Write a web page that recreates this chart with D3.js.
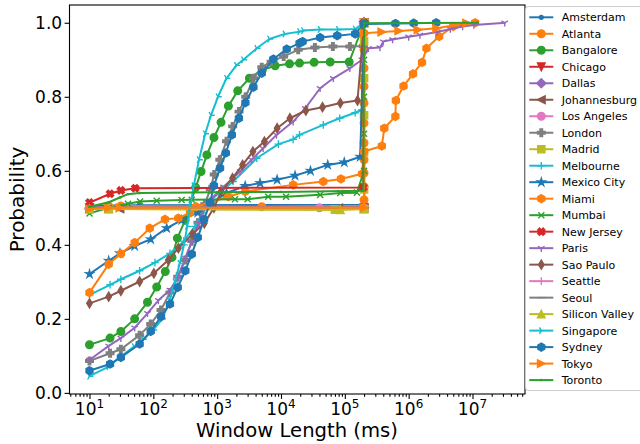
<!DOCTYPE html>
<html><head><meta charset="utf-8">
<script src="https://cdn.jsdelivr.net/npm/d3@7"></script>
<style>body{margin:0;background:#fff} svg{display:block;font-family:"DejaVu Sans",sans-serif}</style>
</head><body><svg id="c" width="640" height="444"></svg>
<script>
// ---------------- data ----------------
const cities = ["Amsterdam","Atlanta","Bangalore","Chicago","Dallas","Johannesburg","Los Angeles","London","Madrid","Melbourne","Mexico City","Miami","Mumbai","New Jersey","Paris","Sao Paulo","Seattle","Seoul","Silicon Valley","Singapore","Sydney","Tokyo","Toronto"];
const palette = ["#1f77b4","#ff7f0e","#2ca02c","#d62728","#9467bd","#8c564b","#e377c2","#7f7f7f","#bcbd22","#17becf"];
const markerKinds = [".","o","o","v","D","<","o","P","s","+","*","h","x","X","1","d","|","_","^","4","h",">",","];

const amsterdam = [[10,0.505],[20,0.506],[60,0.507],[200000,0.508],[200000,1.0]];
const atlanta = [[10,0.495],[20,0.505],[31,0.505],[5000,0.503],[200000,0.505],[200000,0.521],[200000,0.557],[200000,0.594],[200000,0.630],[200000,0.675],[200000,0.729],[200000,0.783],[200000,0.828],[200000,0.877],[200000,0.927],[200000,0.972],[200000,1.0]];
const bangalore = [[10,0.130],[21,0.148],[31,0.166],[51,0.200],[81,0.245],[113,0.286],[154,0.328],[196,0.366],[238,0.418],[315,0.467],[460,0.555],[560,0.598],[690,0.643],[890,0.690],[1150,0.731],[1500,0.775],[2100,0.816],[3200,0.850],[5100,0.873],[8100,0.884],[13600,0.889],[19500,0.891],[33000,0.893],[59000,0.894],[117000,0.894],[200000,1.0]];
const chicago = [[10,0.5],[200000,0.5],[200000,1.0]];
const dallas = [[10,0.497],[20,0.5],[200000,0.5],[200000,1.0]];
const johannesburg = [[10,0.5],[30,0.497],[80000,0.5],[200000,0.5],[200000,1.0]];
const losAngeles = [[10,0.5],[20,0.5],[40000,0.5],[200000,0.5],[200000,1.0]];
const london = [[10,0.086],[21,0.107],[31,0.118],[61,0.156],[91,0.186],[132,0.224],[182,0.271],[241,0.314],[317,0.359],[400,0.41],[500,0.46],[640,0.51],[780,0.55],[900,0.59],[1100,0.63],[1400,0.68],[1750,0.72],[2200,0.76],[2800,0.80],[3700,0.85],[5000,0.88],[7000,0.895],[11000,0.909],[18600,0.927],[34000,0.933],[65000,0.936],[120000,0.936],[195000,0.937],[200000,1.0]];
const madrid = [[10,0.497],[20,0.497],[70000,0.495],[200000,0.497],[200000,0.55],[200000,0.65],[200000,0.75],[200000,0.85],[200000,0.95],[200000,1.0]];
const melbourne = [[10,0.265],[21,0.292],[31,0.307],[61,0.330],[106,0.352],[182,0.377],[300,0.41],[450,0.45],[600,0.486],[780,0.52],[1780,0.571],[4170,0.634],[9100,0.672],[15500,0.685],[19500,0.697],[46000,0.724],[83000,0.742],[145000,0.757],[186000,0.765],[200000,1.0]];
const mexicoCity = [[10,0.321],[20,0.357],[30,0.377],[51,0.397],[91,0.415],[162,0.445],[278,0.467],[497,0.487],[1400,0.540],[2750,0.559],[4700,0.567],[8700,0.576],[16600,0.587],[29000,0.600],[54000,0.616],[98000,0.623],[174000,0.638],[200000,1.0]];
const miami = [[10,0.271],[20,0.348],[31,0.376],[51,0.406],[88,0.445],[152,0.469],[247,0.472],[375,0.487],[470,0.503],[1500,0.530],[2750,0.544],[15500,0.562],[46000,0.571],[87000,0.578],[186000,0.592],[200000,0.652],[380000,0.667],[415000,0.715],[620000,0.747],[630000,0.79],[830000,0.829],[1170000,0.862],[1620000,0.893],[1900000,0.931],[3000000,0.963],[5000000,0.99],[11000000,1.0]];
const mumbai = [[10,0.485],[20,0.50],[40,0.511],[62,0.517],[113,0.519],[278,0.521],[400,0.522],[1900,0.523],[3000,0.523],[6300,0.530],[12000,0.530],[41000,0.535],[85000,0.54],[155000,0.541],[200000,0.6],[200000,0.7],[200000,0.8],[200000,0.9],[200000,1.0]];
const newJersey = [[10,0.514],[21,0.538],[31,0.547],[52,0.553],[195000,0.555],[200000,1.0]];
const paris = [[10,0.089],[20,0.127],[31,0.148],[51,0.176],[81,0.215],[120,0.25],[182,0.278],[240,0.31],[315,0.364],[400,0.409],[510,0.458],[690,0.513],[1260,0.557],[2290,0.598],[3470,0.630],[5250,0.661],[8500,0.697],[15500,0.733],[24000,0.769],[41000,0.823],[66000,0.850],[120000,0.877],[186000,0.90],[234000,0.931],[355000,0.933],[400000,0.949],[560000,0.955],[1000000,0.962],[1500000,0.967],[2800000,0.975],[4500000,0.983],[7000000,0.99],[10500000,0.994],[32000000,1.0]];
const saoPaulo = [[10,0.242],[20,0.260],[31,0.276],[61,0.301],[102,0.323],[172,0.359],[247,0.391],[410,0.429],[630,0.458],[890,0.50],[1150,0.544],[1740,0.580],[2500,0.616],[3630,0.652],[5500,0.679],[8700,0.715],[13800,0.742],[24500,0.763],[44700,0.772],[85000,0.783],[158000,0.790],[200000,1.0]];
const seattle = [[10,0.5],[40000,0.5],[200000,0.5],[200000,1.0]];
const seoul = [[10,0.5],[200000,0.5],[200000,1.0]];
const siliconValley = [[10,0.497],[20,0.497],[85000,0.495],[200000,0.497],[200000,1.0]];
const singapore = [[10,0.045],[20,0.071],[30,0.097],[50,0.125],[69,0.145],[100,0.17],[138,0.20],[180,0.25],[218,0.30],[260,0.35],[302,0.40],[340,0.45],[376,0.50],[430,0.56],[520,0.63],[650,0.70],[800,0.75],[1030,0.80],[1400,0.85],[2000,0.885],[2570,0.90],[4170,0.931],[6600,0.956],[11500,0.970],[19500,0.976],[22400,0.979],[41000,0.982],[79000,0.982],[145000,0.983],[200000,1.0]];
const sydney = [[10,0.060],[21,0.078],[31,0.096],[61,0.132],[91,0.166],[132,0.206],[182,0.240],[241,0.285],[317,0.330],[400,0.375],[497,0.420],[624,0.469],[778,0.514],[890,0.560],[1110,0.607],[1365,0.648],[1700,0.697],[2190,0.742],[2770,0.784],[3700,0.826],[5000,0.864],[7600,0.902],[12300,0.929],[19500,0.945],[21800,0.949],[41000,0.960],[76000,0.965],[145000,0.970],[200000,0.997],[620000,0.998],[1200000,0.999],[2700000,1.0]];
const tokyo = [[10,0.497],[20,0.5],[30,0.5],[200000,0.5],[200000,0.972],[380000,0.975],[700000,0.978],[1400000,0.981],[2750000,0.985],[8100000,0.999]];
const toronto = [[10,0.503],[20,0.515],[30,0.528],[40,0.537],[60,0.540],[1000,0.542],[10000,0.543],[195000,0.546],[200000,0.999],[12000000,1.0]];

const seriesValues = [amsterdam,atlanta,bangalore,chicago,dallas,johannesburg,losAngeles,london,madrid,melbourne,mexicoCity,miami,mumbai,newJersey,paris,saoPaulo,seattle,seoul,siliconValley,singapore,sydney,tokyo,toronto];

const xMajorTicks = [1e1,1e2,1e3,1e4,1e5,1e6,1e7];
const xTickExponents = ["1","2","3","4","5","6","7"];
const yTickValues = [0,0.2,0.4,0.6,0.8,1.0];
const xTitle = "Window Length (ms)";
const yTitle = "Probability";

// ---------------- layout ----------------
const L = 69.5, R = 525, T = 5, B = 394;
const svg = d3.select("#c");
const x = d3.scaleLog().domain([4.861, 6.645e7]).range([L, R]);
const y = d3.scaleLinear().domain([-0.003, 1.048]).range([B, T]);

const MS = 7.6;
function markerPath(kind) {
  const p = d3.path(), h = MS/2;
  switch(kind) {
    case ".": p.arc(0,0,h*0.5,0,2*Math.PI); break;
    case "o": p.arc(0,0,h,0,2*Math.PI); break;
    case "h": for (let i=0;i<6;i++){const a=Math.PI/2+i*Math.PI/3; const px=h*1.05*Math.cos(a), py=-h*1.05*Math.sin(a); i?p.lineTo(px,py):p.moveTo(px,py);} p.closePath(); break;
    case "v": p.moveTo(0,h); p.lineTo(-h,-h); p.lineTo(h,-h); p.closePath(); break;
    case "^": p.moveTo(0,-h); p.lineTo(-h,h); p.lineTo(h,h); p.closePath(); break;
    case "<": p.moveTo(-h,0); p.lineTo(h,-h); p.lineTo(h,h); p.closePath(); break;
    case ">": p.moveTo(h,0); p.lineTo(-h,-h); p.lineTo(-h,h); p.closePath(); break;
    case "s": {const s=h*0.95; p.rect(-s,-s,2*s,2*s);} break;
    case "D": {const s=h*1.2; p.moveTo(0,-s); p.lineTo(s,0); p.lineTo(0,s); p.lineTo(-s,0); p.closePath();} break;
    case "d": {const s=h*1.2; p.moveTo(0,-s); p.lineTo(s*0.6,0); p.lineTo(0,s); p.lineTo(-s*0.6,0); p.closePath();} break;
    case "*": for (let i=0;i<10;i++){const r=i%2?h*0.382:h*1.05; const a=Math.PI/2+i*Math.PI/5; const px=r*Math.cos(a), py=-r*Math.sin(a); i?p.lineTo(px,py):p.moveTo(px,py);} p.closePath(); break;
    case "P": {const a=h, t=h/3; p.moveTo(-t,-a); p.lineTo(t,-a); p.lineTo(t,-t); p.lineTo(a,-t); p.lineTo(a,t); p.lineTo(t,t); p.lineTo(t,a); p.lineTo(-t,a); p.lineTo(-t,t); p.lineTo(-a,t); p.lineTo(-a,-t); p.lineTo(-t,-t); p.closePath();} break;
    case "X": {const a=h, t=h/3; const pts=[[-t,-a],[t,-a],[t,-t],[a,-t],[a,t],[t,t],[t,a],[-t,a],[-t,t],[-a,t],[-a,-t],[-t,-t]]; const c=Math.SQRT1_2; pts.forEach((q,i)=>{const px=(q[0]-q[1])*c, py=(q[0]+q[1])*c; i?p.lineTo(px,py):p.moveTo(px,py);}); p.closePath();} break;
    case "+": p.moveTo(-h,0); p.lineTo(h,0); p.moveTo(0,-h); p.lineTo(0,h); break;
    case "x": {const s=h*0.8; p.moveTo(-s,-s); p.lineTo(s,s); p.moveTo(-s,s); p.lineTo(s,-s);} break;
    case "1": p.moveTo(0,0); p.lineTo(0,h); p.moveTo(0,0); p.lineTo(0.866*h,-0.5*h); p.moveTo(0,0); p.lineTo(-0.866*h,-0.5*h); break;
    case "4": p.moveTo(0,0); p.lineTo(h,0); p.moveTo(0,0); p.lineTo(-0.5*h,0.866*h); p.moveTo(0,0); p.lineTo(-0.5*h,-0.866*h); break;
    case "|": p.moveTo(0,-h); p.lineTo(0,h); break;
    case "_": p.moveTo(-h,0); p.lineTo(h,0); break;
    case ",": p.rect(-0.5,-0.5,1,1); break;
  }
  return p.toString();
}
const filled = k => !["+","x","1","4","|","_"].includes(k);

// clip
svg.append("defs").append("clipPath").attr("id","clip").append("rect")
  .attr("x",L).attr("y",T).attr("width",R-L).attr("height",B-T);

const plot = svg.append("g").attr("clip-path","url(#clip)");
const line = d3.line().x(d=>x(d[0])).y(d=>y(d[1]));

seriesValues.forEach((pts,i)=>{
  const col = palette[i%10], k = markerKinds[i];
  const g = plot.append("g");
  g.append("path").datum(pts).attr("d",line).attr("fill","none")
    .attr("stroke",col).attr("stroke-width",2).attr("stroke-linejoin","round").attr("stroke-linecap","square");
  const mp = markerPath(k);
  g.selectAll("path.m").data(pts).join("path").attr("class","m")
    .attr("transform",d=>`translate(${x(d[0])},${y(d[1])})`)
    .attr("d",mp).attr("fill",filled(k)?col:"none").attr("stroke",col).attr("stroke-width",1.4);
});

// axes
const minorTicks = [];
for (let e=0;e<=7;e++) for (let m=2;m<=9;m++){const v=m*Math.pow(10,e); if (v>=x.domain()[0] && v<=x.domain()[1]) minorTicks.push(v);}
const gx = svg.append("g").attr("transform",`translate(0,${B})`);
gx.call(d3.axisBottom(x).tickValues(minorTicks).tickSize(2.8).tickFormat(""));
const gxM = svg.append("g").attr("transform",`translate(0,${B})`);
gxM.call(d3.axisBottom(x).tickValues(xMajorTicks).tickSize(4.9).tickFormat(""));
[gx,gxM].forEach(g=>{g.select(".domain").remove(); g.selectAll(".tick line").attr("stroke","#000").attr("stroke-width",1.1);});

xMajorTicks.forEach((v,i)=>{
  const t = svg.append("text").attr("x",x(v)).attr("y",414.5).attr("text-anchor","middle")
    .attr("font-size",17).attr("fill","#000");
  t.append("tspan").text("10");
  t.append("tspan").attr("dy",-7).attr("font-size",12).text(xTickExponents[i]);
});

const gy = svg.append("g").attr("transform",`translate(${L},0)`);
gy.call(d3.axisLeft(y).tickValues(yTickValues).tickSize(4.9).tickPadding(2.5).tickFormat(d3.format(".1f")));
gy.select(".domain").remove();
gy.selectAll(".tick line").attr("stroke","#000").attr("stroke-width",1.1);
gy.selectAll(".tick text").attr("font-size",17).attr("font-family","DejaVu Sans").attr("fill","#000");

svg.append("rect").attr("x",L).attr("y",T).attr("width",R-L).attr("height",B-T)
  .attr("fill","none").attr("stroke","#000").attr("stroke-width",1.1);

svg.append("text").attr("x",297).attr("y",437).attr("text-anchor","middle").attr("font-size",19.6).text(xTitle);
svg.append("text").attr("transform","translate(24,199.5) rotate(-90)").attr("text-anchor","middle").attr("font-size",20).text(yTitle);

// legend
const lg = svg.append("g");
lg.append("rect").attr("x",525.5).attr("y",6.5).attr("width",200).attr("height",384).attr("rx",3)
  .attr("fill","#fff").attr("fill-opacity",0.8).attr("stroke","#cccccc").attr("stroke-width",1);
cities.forEach((c,i)=>{
  const yy = 17.3 + i*16.49, col = palette[i%10], k = markerKinds[i];
  lg.append("line").attr("x1",529.3).attr("x2",553.3).attr("y1",yy).attr("y2",yy).attr("stroke",col).attr("stroke-width",2);
  lg.append("path").attr("d",markerPath(k)).attr("transform",`translate(541.3,${yy})`)
    .attr("fill",filled(k)?col:"none").attr("stroke",col).attr("stroke-width",1.4);
  lg.append("text").attr("x",561.7).attr("y",yy).attr("dy","0.36em").attr("font-size",11).text(c);
});
</script></body></html>
